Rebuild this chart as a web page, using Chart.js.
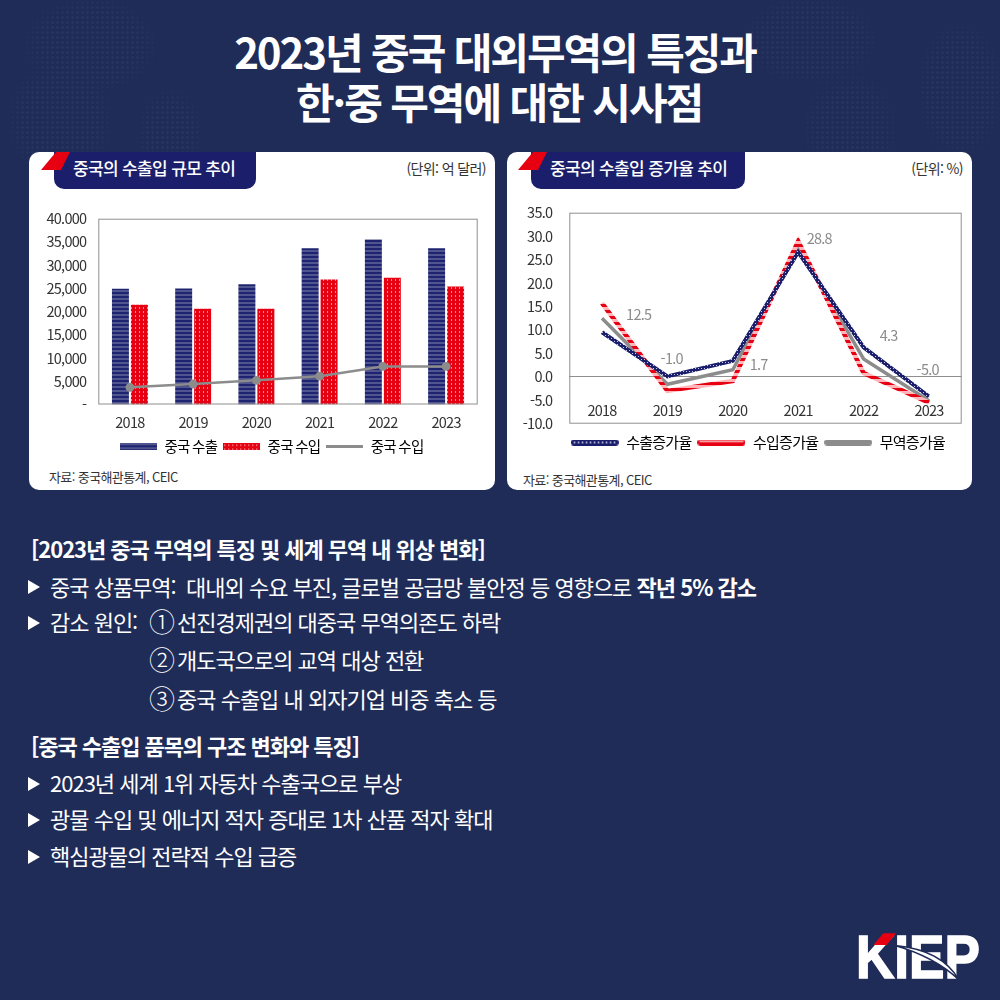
<!DOCTYPE html>
<html lang="ko"><head><meta charset="utf-8">
<script src="https://cdn.jsdelivr.net/npm/chart.js@4"></script>
<style>
*{box-sizing:border-box}
html,body{margin:0;padding:0;width:1000px;height:1000px;overflow:hidden;background:#202c58}
body{position:relative;font-family:"Noto Sans CJK KR","Noto Sans",sans-serif;color:#fff}
.map{position:absolute;left:0;top:0;width:1000px;height:175px;
 background-image:radial-gradient(circle,rgba(120,140,200,.09) 1.2px,transparent 1.5px);background-size:5px 5px;
 -webkit-mask-image:radial-gradient(ellipse 70px 50px at 90px 45px,#000 70%,transparent 100%),radial-gradient(ellipse 55px 60px at 60px 120px,#000 70%,transparent 100%),radial-gradient(ellipse 35px 50px at 170px 135px,#000 60%,transparent 100%),radial-gradient(ellipse 70px 45px at 810px 40px,#000 70%,transparent 100%),radial-gradient(ellipse 50px 60px at 850px 130px,#000 60%,transparent 100%),radial-gradient(ellipse 45px 70px at 960px 90px,#000 70%,transparent 100%);
 mask-image:radial-gradient(ellipse 70px 50px at 90px 45px,#000 70%,transparent 100%),radial-gradient(ellipse 55px 60px at 60px 120px,#000 70%,transparent 100%),radial-gradient(ellipse 35px 50px at 170px 135px,#000 60%,transparent 100%),radial-gradient(ellipse 70px 45px at 810px 40px,#000 70%,transparent 100%),radial-gradient(ellipse 50px 60px at 850px 130px,#000 60%,transparent 100%),radial-gradient(ellipse 45px 70px at 960px 90px,#000 70%,transparent 100%)}
.t{position:absolute;white-space:nowrap}
.title{text-align:center;font-weight:700;font-size:42px;letter-spacing:-2.1px;line-height:50px}
.card{position:absolute;background:#fff;border-radius:10px;top:152px;height:338px}
.tab{position:absolute;background:#1b1f6b;top:152px;height:37px;border-radius:0 0 10px 10px;color:#fff;font-size:17px;font-weight:500;letter-spacing:-.65px;line-height:32px}
.red{position:absolute;top:152px;width:30px;height:18px;background:#e60012;clip-path:polygon(15px 0,29px 0,20px 100%,0 100%)}
.dark{color:#333;font-size:13px;letter-spacing:-.6px}
canvas{position:absolute}
.h{font-size:22px;font-weight:700;letter-spacing:-1.05px;color:#fff;line-height:30px}
.b{font-size:22px;font-weight:400;letter-spacing:-1px;color:#fff;line-height:30px}
.b b{font-weight:700}
.n{font-size:26px;font-weight:300;letter-spacing:0;line-height:30px}
.tri{position:absolute;width:12px;height:14px;background:#fff;clip-path:polygon(0 0,100% 50%,0 100%)}
</style></head><body>
<div class="map"></div>
<div class="t title" style="top:26px;left:-5px;width:1000px">2023년 중국 대외무역의 특징과</div>
<div class="t title" style="top:76px;left:-1px;width:1000px">한·중 무역에 대한 시사점</div>

<div class="card" style="left:29px;width:466px"></div>
<div class="card" style="left:507px;width:465px"></div>
<div class="tab" style="left:54px;width:202px;padding-left:19px">중국의 수출입 규모 추이</div><div class="red" style="left:41px"></div>
<div class="tab" style="left:531px;width:214px;padding-left:19px">중국의 수출입 증가율 추이</div><div class="red" style="left:518px"></div>
<div class="t dark" style="right:514px;top:158px;font-size:14px">(단위: 억 달러)</div>
<div class="t dark" style="right:37px;top:158px;font-size:14px">(단위: %)</div>
<div class="t dark" style="left:49px;top:467px">자료: 중국해관통계, CEIC</div>
<div class="t dark" style="left:523px;top:470px">자료: 중국해관통계, CEIC</div>
<canvas id="c1" style="left:30px;top:198px"></canvas>
<canvas id="c2" style="left:508px;top:187px"></canvas>

<div class="t h" style="left:31px;top:533px">[2023년 중국 무역의 특징 및 세계 무역 내 위상 변화]</div>
<div class="tri" style="left:28px;top:580px"></div><div class="t b" style="left:50px;top:571px">중국 상품무역:&nbsp; 대내외 수요 부진, 글로벌 공급망 불안정 등 영향으로 <b>작년 5% 감소</b></div>
<div class="tri" style="left:28px;top:616px"></div><div class="t b" style="left:50px;top:606px">감소 원인:</div>
<div class="t n" style="left:149px;top:606px">①</div><div class="t b" style="left:177px;top:606px">선진경제권의 대중국 무역의존도 하락</div>
<div class="t n" style="left:149px;top:644px">②</div><div class="t b" style="left:177px;top:644px">개도국으로의 교역 대상 전환</div>
<div class="t n" style="left:149px;top:683px">③</div><div class="t b" style="left:177px;top:683px">중국 수출입 내 외자기업 비중 축소 등</div>
<div class="t h" style="left:31px;top:730px">[중국 수출입 품목의 구조 변화와 특징]</div>
<div class="tri" style="left:28px;top:777px"></div><div class="t b" style="left:50px;top:767px">2023년 세계 1위 자동차 수출국으로 부상</div>
<div class="tri" style="left:28px;top:813px"></div><div class="t b" style="left:50px;top:803px">광물 수입 및 에너지 적자 증대로 1차 산품 적자 확대</div>
<div class="tri" style="left:28px;top:850px"></div><div class="t b" style="left:50px;top:840px">핵심광물의 전략적 수입 급증</div>

<svg style="position:absolute;left:840px;top:920px" width="160" height="80" viewBox="0 0 160 80">
<text x="16" y="58" font-family="Liberation Sans" font-weight="700" font-size="62" fill="#fff" stroke="#fff" stroke-width="1.6" textLength="124" lengthAdjust="spacingAndGlyphs">KIEP</text>
<path d="M33.3 25 L43.3 13.3 L56 13.3 L46.7 25 Z" fill="#e60012"/>
<path d="M55 25.5 Q102 30 119 60 Q95 37 55 25.5Z" fill="#fff" stroke="#202c58" stroke-width="1.5"/>
</svg>

<script>
const years = ['2018','2019','2020','2021','2022','2023'];
const exportsValue = [24900,24990,25900,33640,35500,33640];
const importsValue = [21500,20600,20600,26900,27300,25400];
const balanceValue = [3700,4400,5200,6100,8200,8200];
const leftTickLabels = {40000:'40.000',35000:'35,000',30000:'30,000',25000:'25,000',20000:'20,000',15000:'15,000',10000:'10,000',5000:'5,000',0:'-'};
const exportGrowth = [9.5,0.1,3.4,26.6,6.3,-4.2];
const importGrowth = [15.7,-3.0,-0.9,28.9,0.8,-5.5];
const tradeGrowth = [12.5,-1.6,1.5,27.7,3.8,-5.1];
const tradeLabels = ['12.5','-1.0','1.7','28.8','4.3','-5.0'];
const leftLegend = ['중국 수출','중국 수입','중국 수입'];
const rightLegend = ['수출증가율','수입증가율','무역증가율'];
const FONT = '"Noto Sans CJK KR","Noto Sans",sans-serif';

function makePattern(w,h,bg,draw){
  const c=document.createElement('canvas');c.width=w;c.height=h;
  const g=c.getContext('2d');g.fillStyle=bg;g.fillRect(0,0,w,h);draw(g);
  return g.createPattern(c,'repeat');
}
function swatch(w,h,draw){const c=document.createElement('canvas');c.width=w;c.height=h;draw(c.getContext('2d'),w,h);return c;}
const navyStripes = makePattern(4,4,'#1f2470',g=>{g.fillStyle='#50558f';g.fillRect(0,0,4,2);});
const redDots = makePattern(4,4,'#e60012',g=>{g.fillStyle='#f58a92';g.fillRect(1,1,1,2);});
const navyDots = makePattern(3,3,'#1b1f6b',g=>{g.fillStyle='#c9cbe6';g.fillRect(1,1,1,1);});
const redStripes = makePattern(6,6,'#e60012',g=>{g.fillStyle='#ffb4b9';g.fillRect(0,0,6,3);});

const swNavyBar = swatch(37,7,(g,w,h)=>{g.fillStyle=navyStripes;g.fillRect(0,0,w,h);});
const swRedBar = swatch(37,7,(g,w,h)=>{g.fillStyle=redDots;g.fillRect(0,0,w,h);});
const swGrayLine = swatch(37,3,(g,w,h)=>{g.fillStyle='#8c8c8c';g.fillRect(0,0,w,h);});
function pill(g,w,h){g.beginPath();g.roundRect(0,0,w,h,h/2);g.fill();}
const swNavyLine = swatch(48,6,(g,w,h)=>{g.fillStyle='#1b1f6b';pill(g,w,h);g.fillStyle='#c9cbe6';for(let x=3;x<w-2;x+=4)g.fillRect(x,2,1.4,2);});
const swRedLine = swatch(48,6,(g,w,h)=>{g.fillStyle='#e60012';pill(g,w,h);g.fillStyle='#ffc2c6';g.fillRect(2,1,w-4,1.6);});
const swTradeLine = swatch(48,6,(g,w,h)=>{g.fillStyle='#8c8c8c';pill(g,w,h);});

const spacing = v => ({id:'spacing',beforeLayout(ch){ch.ctx.letterSpacing=v},beforeDraw(ch){ch.ctx.letterSpacing=v}});
const shiftLegend = dx => ({id:'shiftLegend',afterLayout(ch){ch.legend.left+=dx;ch.legend.right+=dx;}});
const frame = {id:'frame',afterDraw(ch){const {ctx,chartArea:a}=ch;ctx.save();ctx.strokeStyle='#8f8f8f';ctx.lineWidth=1;ctx.strokeRect(a.left+.5,a.top+.5,a.width-1,a.height-1);ctx.restore();}};
const tagOffsets = [[36.7,-3.9],[4.3,-25.8],[25.9,-5.3],[21.1,-8.5],[25.1,-23.5],[-1.3,-31.1]];
const valueTags = {id:'valueTags',afterDatasetsDraw(ch){
  const {ctx}=ch,m=ch.getDatasetMeta(2);
  ctx.save();ctx.font='14.5px '+FONT;ctx.fillStyle='#8c8c8c';ctx.textAlign='center';ctx.textBaseline='middle';
  m.data.forEach((p,i)=>ctx.fillText(tradeLabels[i],p.x+tagOffsets[i][0],p.y+tagOffsets[i][1]));ctx.restore();}};

function size(id,w,h){const c=document.getElementById(id);c.style.width=w+'px';c.style.height=h+'px';c.width=w;c.height=h;return c;}
Chart.defaults.font.family=FONT;Chart.defaults.color='#333';Chart.defaults.animation=false;

new Chart(size('c1',460,266),{
  type:'bar',
  data:{labels:years,datasets:[
    {type:'line',label:leftLegend[2],data:balanceValue,borderColor:'#8c8c8c',backgroundColor:'#8c8c8c',borderWidth:2.5,pointRadius:3.2,pointBackgroundColor:'#8c8c8c',order:0,tension:0},
    {label:leftLegend[0],data:exportsValue,backgroundColor:navyStripes,categoryPercentage:.6,barPercentage:.895,order:1},
    {label:leftLegend[1],data:importsValue,backgroundColor:redDots,categoryPercentage:.6,barPercentage:.895,order:2}
  ]},
  plugins:[spacing('-.75px'),shiftLegend(18),frame],
  options:{responsive:false,
    layout:{autoPadding:false,padding:{left:0,right:12.3,top:14.3,bottom:0}},
    scales:{
      x:{grid:{display:false,drawTicks:false},border:{display:false},ticks:{font:{size:14.5},padding:9,maxRotation:0},afterFit(s){s.height=29}},
      y:{min:0,max:40000,afterFit(s){s.width=68.3},grid:{display:false,drawTicks:false},border:{display:false},
         ticks:{stepSize:5000,padding:12,font:{size:14.5},callback:v=>leftTickLabels[v]}}
    },
    plugins:{tooltip:{enabled:false},legend:{position:'bottom',labels:{usePointStyle:true,pointStyleWidth:37,boxHeight:7,padding:6,font:{size:14.5},color:'#333',
      generateLabels(ch){const st={0:swGrayLine,1:swNavyBar,2:swRedBar};return [1,2,0].map(i=>({text:ch.data.datasets[i].label,pointStyle:st[i],fillStyle:'#000',strokeStyle:'transparent',lineWidth:0,datasetIndex:i}));}}}}
  }
});

new Chart(size('c2',460,273),{
  type:'line',
  data:{labels:years,datasets:[
    {label:rightLegend[0],data:exportGrowth,borderColor:navyDots,backgroundColor:navyDots,borderWidth:4,pointRadius:0,tension:0,borderJoinStyle:'miter'},
    {label:rightLegend[1],data:importGrowth,borderColor:redStripes,backgroundColor:redStripes,borderWidth:4.5,pointRadius:0,tension:0,borderJoinStyle:'miter'},
    {label:rightLegend[2],data:tradeGrowth,borderColor:'#8c8c8c',backgroundColor:'#8c8c8c',borderWidth:3.5,pointRadius:0,tension:0,borderJoinStyle:'miter'}
  ]},
  plugins:[spacing('-.75px'),shiftLegend(23),frame,valueTags],
  options:{responsive:false,
    layout:{autoPadding:false,padding:{left:0,right:6.3,top:13.3,bottom:0}},
    scales:{
      x:{offset:true,grid:{display:false,drawTicks:false},border:{display:false},ticks:{font:{size:14.5},mirror:true,padding:5,maxRotation:0},afterFit(s){s.height=5.3}},
      y:{min:-10,max:35,afterFit(s){s.width=61.3},border:{display:false},
         grid:{drawTicks:false,color:c=>c.tick.value===0?'#8f8f8f':'transparent',lineWidth:1},
         ticks:{stepSize:5,padding:17,font:{size:14.5},callback:v=>v.toFixed(1)}}
    },
    plugins:{tooltip:{enabled:false},legend:{position:'bottom',labels:{usePointStyle:true,pointStyleWidth:48,boxHeight:6,padding:6,font:{size:15},color:'#333',
      generateLabels(ch){const st=[swNavyLine,swRedLine,swTradeLine];return ch.data.datasets.map((d,i)=>({text:d.label,pointStyle:st[i],fillStyle:'#000',strokeStyle:'transparent',lineWidth:0,datasetIndex:i}));}}}}
  }
});
</script>
</body></html>
